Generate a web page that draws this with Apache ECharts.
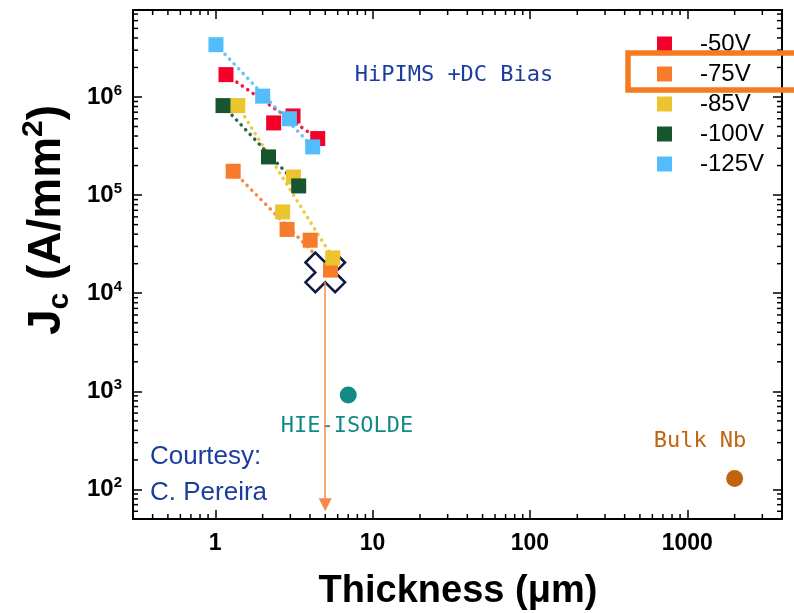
<!DOCTYPE html>
<html>
<head>
<meta charset="utf-8">
<script src="https://cdn.jsdelivr.net/npm/echarts@6/dist/echarts.min.js"></script>
<style>
  html, body { margin: 0; padding: 0; background: #fff; }
  #chart { width: 794px; height: 613px; }
</style>
</head>
<body>
<div id="chart"></div>
<script>
// thickness in µm, Jc in A/mm2
var bias = ['-50V', '-75V', '-85V', '-100V', '-125V'];
var colors = ['#f5002a', '#f67c2b', '#ebc42e', '#16552d', '#52bdfa'];
var thick50 = [1.17, 2.35, 3.12, 4.48];
var jc50 = [1.69e6, 5.44e5, 6.41e5, 3.77e5];
var thick75 = [1.30, 2.86, 4.01, 5.40];
var jc75 = [1.75e5, 4.47e4, 3.47e4, 1.72e4];
var thick85 = [1.39, 2.68, 3.14, 5.58];
var jc85 = [8.17e5, 6.74e4, 1.53e5, 2.29e4];
var thick100 = [1.12, 2.18, 3.39];
var jc100 = [8.17e5, 2.45e5, 1.24e5];
var thick125 = [1.01, 2.0, 2.96, 4.16];
var jc125 = [3.41e6, 1.02e6, 6.0e5, 3.1e5];
var crossPoint = [5.0, 1.63e4];
var arrowStart = [5.0, 1.3e4];
var arrowEnd = [5.0, 70];
var hieIsolde = [7.0, 916];
var bulkNb = [2000, 129];
var xRange = [0.3, 4000];
var yRange = [50, 7.7e6];

var thickSets = [thick50, thick75, thick85, thick100, thick125];
var jcSets = [jc50, jc75, jc85, jc100, jc125];

var chart = echarts.init(document.getElementById('chart'));
var font = 'Liberation Sans, Arial, sans-serif';
var mono = 'DejaVu Sans Mono, monospace';

function pairs(xs, ys) {
  return xs.map(function (x, i) { return [x, ys[i]]; });
}
function isPow10(v) {
  var l = Math.log(v) / Math.LN10;
  return Math.abs(l - Math.round(l)) < 1e-6;
}

// minor ticks (2..9 per decade) on all four sides
var minorData = [];
for (var e = -1; e <= 3; e++) {
  for (var m = 2; m <= 9; m++) {
    var v = m * Math.pow(10, e);
    if (v > xRange[0] && v < xRange[1]) minorData.push([v, yRange[0], 0]);
  }
}
for (var e2 = 1; e2 <= 6; e2++) {
  for (var m2 = 2; m2 <= 9; m2++) {
    var w = m2 * Math.pow(10, e2);
    if (w > yRange[0] && w < yRange[1]) minorData.push([xRange[0], w, 1]);
  }
}

var series = [];
bias.forEach(function (name, i) {
  var pts = pairs(thickSets[i], jcSets[i]);
  series.push({
    name: name + ' trend',
    type: 'line',
    data: [pts[0], pts[pts.length - 1]],
    showSymbol: false,
    silent: true,
    z: 1,
    lineStyle: { color: colors[i], width: 3.5, type: [0.1, 6.5], cap: 'round', opacity: 0.9 }
  });
  series.push({
    name: name,
    type: 'scatter',
    data: pts,
    symbol: 'rect',
    symbolSize: 15,
    z: 3,
    itemStyle: { color: colors[i], opacity: 1 }
  });
});

series.push({
  type: 'scatter',
  data: [crossPoint],
  symbol: 'path://M-1,-3L1,-3L1,-1L3,-1L3,1L1,1L1,3L-1,3L-1,1L-3,1L-3,-1L-1,-1Z',
  symbolRotate: 45,
  symbolSize: 42,
  z: 2,
  itemStyle: { color: '#fff', borderColor: '#0d1a44', borderWidth: 2.5, opacity: 1 },
  markLine: {
    silent: true,
    symbol: ['none', 'triangle'],
    symbolSize: [13, 13],
    label: { show: false },
    lineStyle: { color: '#f68a48', width: 1.5, type: 'solid' },
    data: [[{ coord: arrowStart }, { coord: arrowEnd }]]
  }
});

series.push({
  type: 'scatter',
  data: [hieIsolde],
  symbol: 'circle',
  symbolSize: 17,
  itemStyle: { color: '#138a84', opacity: 1 }
});
series.push({
  type: 'scatter',
  data: [bulkNb],
  symbol: 'circle',
  symbolSize: 17,
  itemStyle: { color: '#c0650f', opacity: 1 }
});

series.push({
  type: 'custom',
  data: minorData,
  silent: true,
  z: 10,
  encode: { x: 0, y: 1 },
  renderItem: function (params, api) {
    var st = { stroke: '#000', lineWidth: 1.5 };
    if (api.value(2) === 0) {
      var p = api.coord([api.value(0), yRange[0]]);
      var q = api.coord([api.value(0), yRange[1]]);
      return { type: 'group', children: [
        { type: 'line', shape: { x1: p[0], y1: p[1], x2: p[0], y2: p[1] - 5 }, style: st },
        { type: 'line', shape: { x1: q[0], y1: q[1], x2: q[0], y2: q[1] + 5 }, style: st }
      ] };
    }
    var a = api.coord([xRange[0], api.value(1)]);
    var b = api.coord([xRange[1], api.value(1)]);
    return { type: 'group', children: [
      { type: 'line', shape: { x1: a[0], y1: a[1], x2: a[0] + 5, y2: a[1] }, style: st },
      { type: 'line', shape: { x1: b[0], y1: b[1], x2: b[0] - 5, y2: b[1] }, style: st }
    ] };
  }
});

function xAxisOf(pos) {
  return {
    type: 'log',
    logBase: 10,
    position: pos,
    min: xRange[0],
    max: xRange[1],
    axisLine: { show: true, onZero: false, lineStyle: { color: '#000', width: 2 } },
    axisTick: { inside: true, length: 9, lineStyle: { color: '#000', width: 1.5 } },
    splitLine: { show: false },
    axisLabel: {
      show: pos === 'bottom',
      margin: 13,
      color: '#000',
      fontSize: 23,
      fontWeight: 'bold',
      fontFamily: font,
      formatter: function (v) { return isPow10(v) ? String(Math.round(v)) : ''; }
    }
  };
}
function yAxisOf(pos) {
  return {
    type: 'log',
    logBase: 10,
    position: pos,
    min: yRange[0],
    max: yRange[1],
    axisLine: { show: true, onZero: false, lineStyle: { color: '#000', width: 2 } },
    axisTick: { inside: true, length: 9, lineStyle: { color: '#000', width: 1.5 } },
    splitLine: { show: false },
    axisLabel: {
      show: pos === 'left',
      margin: 11,
      formatter: function (v) {
        return isPow10(v) ? '{b|10}{s|' + Math.round(Math.log(v) / Math.LN10) + '}' : '';
      },
      rich: {
        b: { fontSize: 24, fontWeight: 'bold', fontFamily: font, color: '#000', lineHeight: 28 },
        s: { fontSize: 15, fontWeight: 'bold', fontFamily: font, color: '#000', lineHeight: 15, verticalAlign: 'top' }
      }
    }
  };
}

var option = {
  animation: false,
  backgroundColor: '#fff',
  grid: { left: 133, right: 12, top: 10, bottom: 94, outerBoundsMode: 'none' },
  xAxis: [xAxisOf('bottom'), xAxisOf('top')],
  yAxis: [yAxisOf('left'), yAxisOf('right')],
  legend: {
    data: bias.map(function (b) { return { name: b, icon: 'rect' }; }),
    orient: 'vertical',
    left: 657,
    top: 32,
    padding: 0,
    itemWidth: 15,
    itemHeight: 15,
    itemGap: 6,
    selectedMode: false,
    textStyle: { fontSize: 24, fontFamily: font, color: '#000', lineHeight: 24, padding: [0, 0, 0, 23] }
  },
  graphic: [
    { type: 'rect', z: 100, shape: { x: 628, y: 53, width: 180, height: 37 },
      style: { fill: 'none', stroke: '#f47b20', lineWidth: 5.5 } },
    { type: 'text', x: 454, y: 75, style: { text: 'HiPIMS +DC Bias', fill: '#1b3d9e', font: '22px ' + mono, textAlign: 'center', textVerticalAlign: 'middle' } },
    { type: 'text', x: 347, y: 426, style: { text: 'HIE-ISOLDE', fill: '#138a84', font: '22px ' + mono, textAlign: 'center', textVerticalAlign: 'middle' } },
    { type: 'text', x: 700, y: 441, style: { text: 'Bulk Nb', fill: '#c0650f', font: '22px ' + mono, textAlign: 'center', textVerticalAlign: 'middle' } },
    { type: 'text', x: 150, y: 457, style: { text: 'Courtesy:', fill: '#1b3d9e', font: '26px ' + font, textAlign: 'left', textVerticalAlign: 'middle' } },
    { type: 'text', x: 150, y: 493, style: { text: 'C. Pereira', fill: '#1b3d9e', font: '26px ' + font, textAlign: 'left', textVerticalAlign: 'middle' } },
    { type: 'text', x: 458, y: 592, style: { text: 'Thickness (\u03bcm)', fill: '#000', font: 'bold 38px ' + font, textAlign: 'center', textVerticalAlign: 'middle' } },
    { type: 'text', x: 47, y: 220, rotation: Math.PI / 2,
      style: {
        text: '{m|J}{c|c}{m| (A/mm}{s|2}{m|)}',
        textAlign: 'center', textVerticalAlign: 'middle',
        rich: {
          m: { fontSize: 46, fontWeight: 'bold', fontFamily: font, fill: '#000', lineHeight: 56 },
          c: { fontSize: 30, fontWeight: 'bold', fontFamily: font, fill: '#000', lineHeight: 30, verticalAlign: 'bottom' },
          s: { fontSize: 30, fontWeight: 'bold', fontFamily: font, fill: '#000', lineHeight: 20, verticalAlign: 'top' }
        }
      } }
  ],
  series: series
};

chart.setOption(option);
</script>
</body>
</html>
